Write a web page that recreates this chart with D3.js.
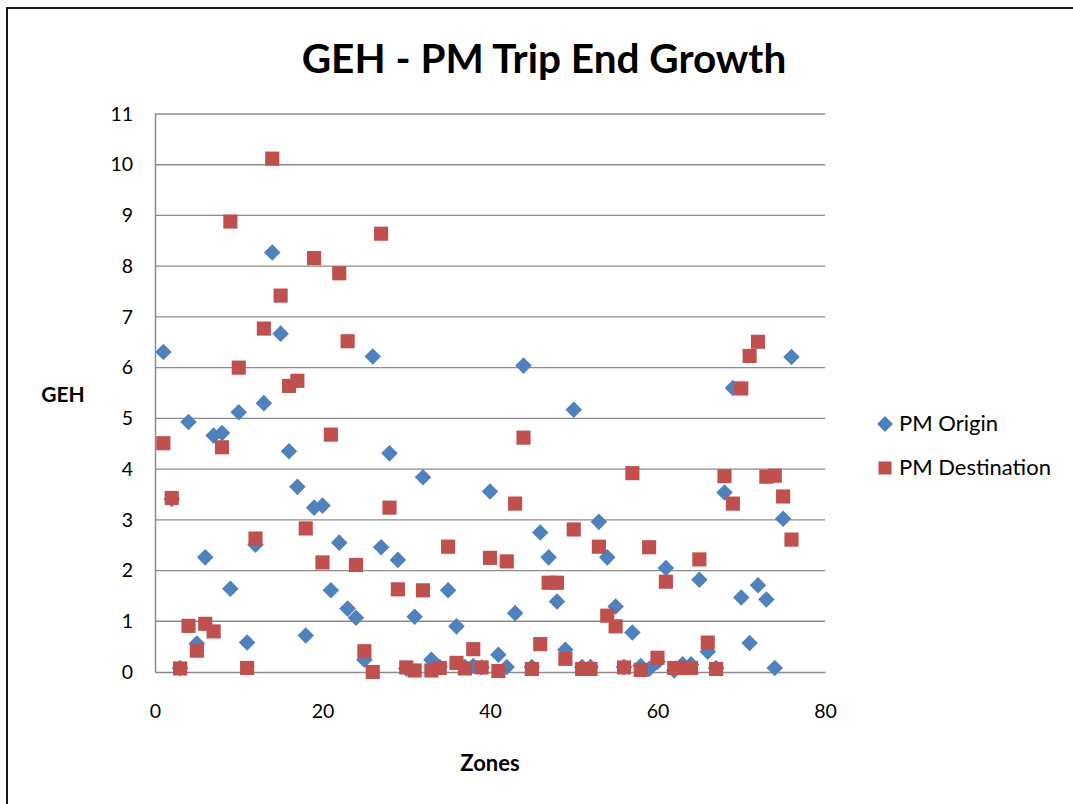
<!DOCTYPE html>
<html>
<head>
<meta charset="utf-8">
<script src="https://cdn.jsdelivr.net/npm/d3@7"></script>
<style>
  html, body { margin: 0; padding: 0; background: #fff; }
  svg { display: block; }
  text { font-family: Lato, "Open Sans", "Liberation Sans", sans-serif; fill: #000; }
</style>
</head>
<body>
<svg id="chart" width="1073" height="804"></svg>
<script>
// Zone numbers 1..76
const zones = [
  1, 2, 3, 4, 5, 6, 7, 8, 9, 10, 11, 12, 13, 14, 15, 16, 17, 18, 19, 20,
  21, 22, 23, 24, 25, 26, 27, 28, 29, 30, 31, 32, 33, 34, 35, 36, 37, 38, 39, 40,
  41, 42, 43, 44, 45, 46, 47, 48, 49, 50, 51, 52, 53, 54, 55, 56, 57, 58, 59, 60,
  61, 62, 63, 64, 65, 66, 67, 68, 69, 70, 71, 72, 73, 74, 75, 76
];

// GEH of PM origin trip ends per zone
const pmOrigin = [
  6.31, 3.41, 0.08, 4.93, 0.56, 2.26, 4.66, 4.71, 1.64, 5.12,
  0.58, 2.51, 5.30, 8.27, 6.67, 4.35, 3.65, 0.72, 3.24, 3.28,
  1.61, 2.55, 1.25, 1.07, 0.24, 6.22, 2.46, 4.31, 2.21, 0.07,
  1.09, 3.84, 0.24, 0.10, 1.61, 0.90, 0.10, 0.12, 0.09, 3.56,
  0.34, 0.10, 1.16, 6.04, 0.10, 2.75, 2.26, 1.39, 0.44, 5.17,
  0.10, 0.10, 2.96, 2.26, 1.29, 0.10, 0.78, 0.12, 0.06, 0.20,
  2.05, 0.03, 0.15, 0.15, 1.82, 0.40, 0.08, 3.54, 5.60, 1.47,
  0.57, 1.71, 1.43, 0.08, 3.02, 6.21
];

// GEH of PM destination trip ends per zone
const pmDestination = [
  4.51, 3.43, 0.07, 0.91, 0.42, 0.95, 0.80, 4.43, 8.88, 6.00,
  0.08, 2.63, 6.77, 10.12, 7.42, 5.64, 5.74, 2.83, 8.16, 2.16,
  4.68, 7.86, 6.52, 2.11, 0.41, 0.00, 8.64, 3.24, 1.63, 0.09,
  0.03, 1.61, 0.03, 0.08, 2.47, 0.18, 0.07, 0.45, 0.09, 2.25,
  0.02, 2.18, 3.32, 4.62, 0.06, 0.55, 1.76, 1.76, 0.26, 2.81,
  0.06, 0.06, 2.47, 1.11, 0.90, 0.09, 3.92, 0.04, 2.46, 0.28,
  1.78, 0.08, 0.08, 0.08, 2.22, 0.58, 0.06, 3.86, 3.32, 5.59,
  6.23, 6.51, 3.85, 3.87, 3.46, 2.61
];

const xTicks = [0, 20, 40, 60, 80];
const yTicks = [0, 1, 2, 3, 4, 5, 6, 7, 8, 9, 10, 11];

const seriesNames = ["PM Origin", "PM Destination"];
const seriesColors = ["#4F81BD", "#C0504D"];

const svg = d3.select("#chart");

// Chart frame
svg.append("rect")
  .attr("x", 7).attr("y", 8)
  .attr("width", 1080).attr("height", 810)
  .attr("fill", "#fff")
  .attr("stroke", "#1a1a1a")
  .attr("stroke-width", 2);

const plot = { left: 155, right: 825, top: 114, bottom: 672 };

const x = d3.scaleLinear().domain([0, 80]).range([plot.left, plot.right]);
const y = d3.scaleLinear().domain([0, 11]).range([plot.bottom, plot.top]);

// Horizontal gridlines
svg.append("g")
  .selectAll("line")
  .data(yTicks.filter(t => t > 0))
  .join("line")
  .attr("x1", plot.left).attr("x2", plot.right)
  .attr("y1", d => y(d)).attr("y2", d => y(d))
  .attr("stroke", "#8c8c8c")
  .attr("stroke-width", 1.3);

// Y axis
const yAxis = svg.append("g")
  .attr("transform", `translate(${plot.left},0)`)
  .call(d3.axisLeft(y).tickValues(yTicks).tickSize(0).tickPadding(22).tickFormat(d3.format("d")));
yAxis.select(".domain").attr("stroke", "#8c8c8c").attr("stroke-width", 1.5);
yAxis.selectAll("text")
  .style("font-size", "19.5px")
  .style("font-family", "Lato, 'Open Sans', sans-serif")
  .attr("fill", "#000");

// X axis
const xAxis = svg.append("g")
  .attr("transform", `translate(0,${plot.bottom})`)
  .call(d3.axisBottom(x).tickValues(xTicks).tickSize(0).tickPadding(32).tickFormat(d3.format("d")));
xAxis.select(".domain").attr("stroke", "#8c8c8c").attr("stroke-width", 1.5);
xAxis.selectAll("text")
  .style("font-size", "19.5px")
  .style("font-family", "Lato, 'Open Sans', sans-serif")
  .attr("fill", "#000");

// Marker shapes
const diamond = d3.symbol().type(d3.symbolDiamond2).size(175);
const square = d3.symbol().type(d3.symbolSquare).size(200);

const originPts = zones.map((z, i) => ({ z, v: pmOrigin[i] }));
const destPts = zones.map((z, i) => ({ z, v: pmDestination[i] }));

svg.append("g")
  .selectAll("path")
  .data(originPts)
  .join("path")
  .attr("d", diamond)
  .attr("transform", d => `translate(${x(d.z)},${y(d.v)})`)
  .attr("fill", seriesColors[0]);

svg.append("g")
  .selectAll("path")
  .data(destPts)
  .join("path")
  .attr("d", square)
  .attr("transform", d => `translate(${x(d.z)},${y(d.v)})`)
  .attr("fill", seriesColors[1]);

// Title
svg.append("text")
  .attr("x", 544).attr("y", 73)
  .attr("text-anchor", "middle")
  .style("font-size", "40.5px")
  .style("font-weight", "bold")
  .text("GEH - PM Trip End Growth");

// Axis titles
svg.append("text")
  .attr("x", 63).attr("y", 402)
  .attr("text-anchor", "middle")
  .style("font-size", "21px")
  .style("font-weight", "bold")
  .text("GEH");

svg.append("text")
  .attr("x", 490).attr("y", 771)
  .attr("text-anchor", "middle")
  .style("font-size", "22px")
  .style("font-weight", "bold")
  .text("Zones");

// Legend
const legend = svg.append("g");
const legendRows = [
  { name: seriesNames[0], color: seriesColors[0], sym: diamond, y: 424 },
  { name: seriesNames[1], color: seriesColors[1], sym: square, y: 468 }
];
legendRows.forEach(r => {
  legend.append("path")
    .attr("d", r.sym.size(r.sym === diamond ? 160 : 170)())
    .attr("transform", `translate(885,${r.y})`)
    .attr("fill", r.color);
  legend.append("text")
    .attr("x", 899).attr("y", r.y + 7)
    .style("font-size", "22px")
    .text(r.name);
});
</script>
</body>
</html>
